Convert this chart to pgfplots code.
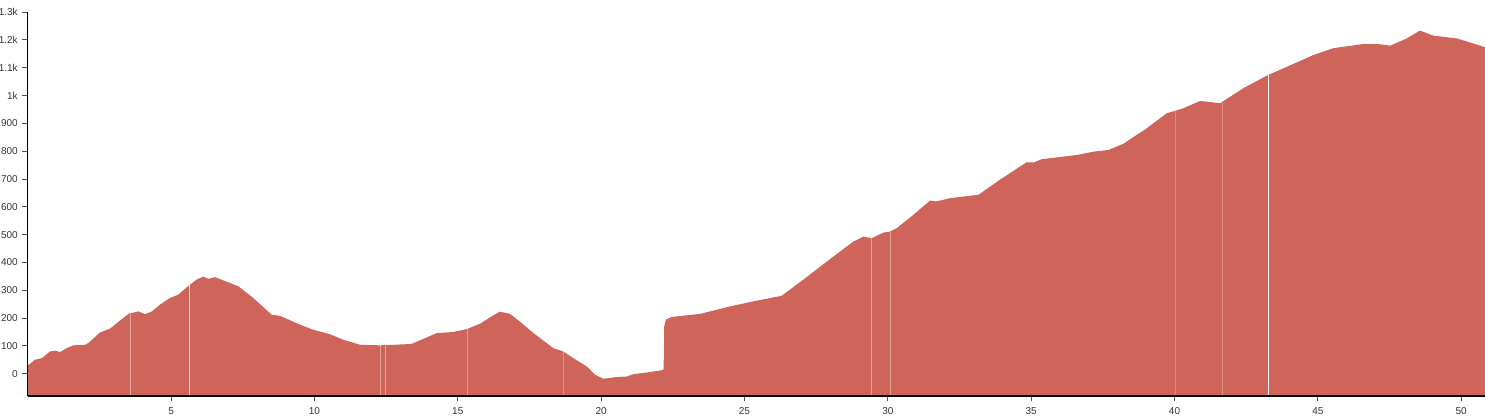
\documentclass[border=0pt]{standalone}
\usepackage{pgfplots}
\pgfplotsset{compat=1.18}
\usepackage{fontspec}
\setmainfont{Liberation Sans}
\definecolor{elev}{RGB}{207,100,90}
\begin{document}
\begin{tikzpicture}
\begin{axis}[
  scale only axis,
  width=1093pt, height=288pt,
  xmin=0, xmax=50.83, ymin=-80, ymax=1300,
  axis x line*=bottom, axis y line*=left,
  axis line style={black, line width=1pt, -},
  xtick={5,10,...,50},
  ytick={0,100,...,1300},
  yticklabels={0,100,200,300,400,500,600,700,800,900,1k,1.1k,1.2k,1.3k},
  tick style={black!70, line width=0.6pt},
  major tick length=4pt,
  tick align=outside,
  tick label style={font=\fontsize{7.5}{9}\selectfont, text=black!80},
  /pgf/number format/assume math mode=true,
  xticklabel style={yshift=-1pt},
  axis on top,
  clip=true,
]
\addplot[fill=elev, draw=none] coordinates {
(0,-80) (0,29) (0.25,50) (0.49,56) (0.78,80) (0.95,83) (1.13,78) (1.36,92) (1.59,102)
(2.00,104) (2.11,110) (2.52,148) (2.87,162) (3.04,176) (3.51,215) (3.86,224) (4.09,214)
(4.33,224) (4.61,248) (4.96,272) (5.25,284) (5.55,311) (5.89,338) (6.12,349) (6.30,341)
(6.53,347) (7.06,326) (7.35,314) (7.87,272) (8.51,212) (8.80,208) (9.50,176) (9.96,158)
(10.54,142) (11.01,122) (11.59,104) (12.29,102) (12.75,104) (13.39,107) (13.86,128)
(14.27,146) (14.84,150) (15.31,160) (15.78,180) (16.18,206) (16.47,223) (16.82,215)
(17.16,188) (17.64,146) (18.33,92) (18.68,80) (19.03,56) (19.50,26) (19.79,-4) (20.08,-18)
(20.54,-12) (20.89,-10) (21.12,-2) (21.70,6) (22.15,13) (22.18,16) (22.20,170) (22.26,194)
(22.46,204) (23.45,215) (24.50,242) (25.31,260) (26.30,280) (27.05,338) (28.10,421)
(28.80,475) (29.15,493) (29.44,487) (29.84,507) (30.08,511) (30.31,523) (30.89,571)
(31.47,622) (31.70,619) (32.17,631) (33.16,643) (33.91,697) (34.84,760) (35.08,759)
(35.37,771) (36.59,786) (37.17,798) (37.69,804) (38.21,826) (39.03,882) (39.73,936)
(40.31,954) (40.89,980) (41.12,978) (41.59,972) (42.40,1026) (43.27,1074) (43.68,1092)
(44.84,1145) (45.54,1170) (46.59,1185) (47.17,1184) (47.52,1179) (48.10,1205) (48.56,1233)
(49.03,1215) (49.84,1205) (50.42,1187) (50.83,1173) (50.83,-80)
};
% light gaps in the profile
\addplot[draw=white, draw opacity=0.45, line width=0.7pt] coordinates {(3.57,-80) (3.57,216)};
\addplot[draw=white, draw opacity=0.8, line width=0.9pt] coordinates {(5.63,-80) (5.63,318)};
\addplot[draw=white, draw opacity=0.4, line width=0.7pt] coordinates {(12.29,-80) (12.29,102)};
\addplot[draw=white, draw opacity=0.4, line width=0.7pt] coordinates {(12.47,-80) (12.47,102)};
\addplot[draw=white, draw opacity=0.35, line width=0.7pt] coordinates {(15.33,-80) (15.33,160)};
\addplot[draw=white, draw opacity=0.3, line width=0.7pt] coordinates {(18.68,-80) (18.68,80)};
\addplot[draw=white, draw opacity=0.4, line width=0.7pt] coordinates {(29.44,-80) (29.44,487)};
\addplot[draw=white, draw opacity=0.4, line width=0.7pt] coordinates {(30.08,-80) (30.08,511)};
\addplot[draw=white, draw opacity=0.25, line width=0.7pt] coordinates {(40.02,-80) (40.02,945)};
\addplot[draw=white, draw opacity=0.3, line width=0.7pt] coordinates {(41.66,-80) (41.66,972)};
\addplot[draw=white, draw opacity=0.95, line width=1pt] coordinates {(43.27,-80) (43.27,1074)};
\end{axis}
\pgfresetboundingbox
\path ([xshift=-20.8pt, yshift=-15pt]current axis.south west) rectangle ([yshift=9pt]current axis.north east);
\end{tikzpicture}
\end{document}
